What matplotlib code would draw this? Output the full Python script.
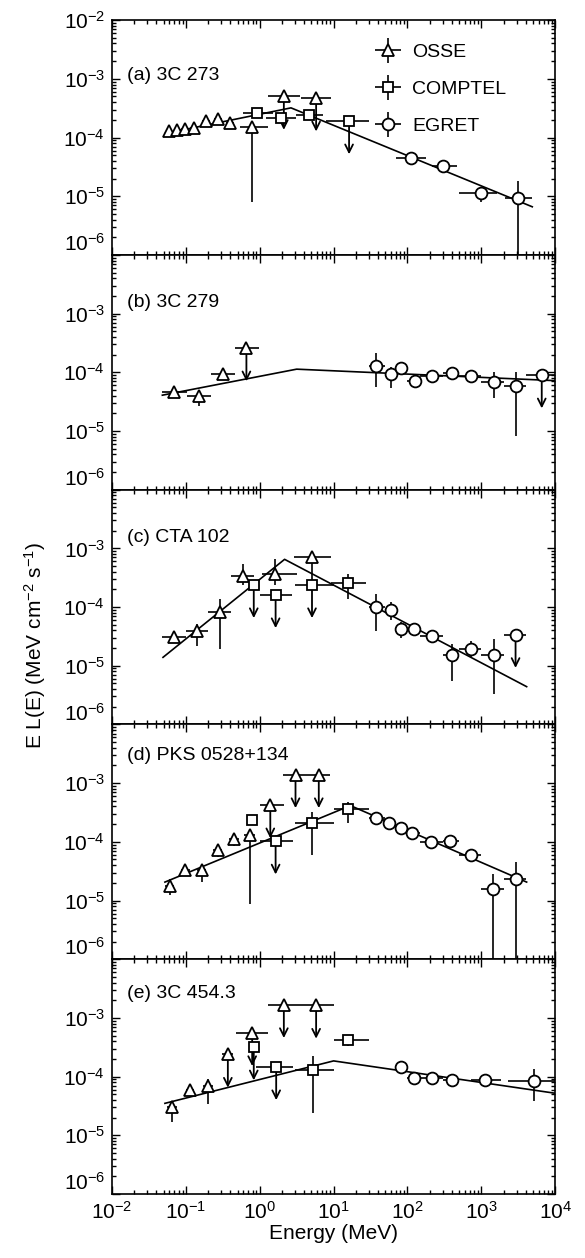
import numpy as np
import matplotlib.pyplot as plt
from matplotlib.container import ErrorbarContainer
from matplotlib.legend_handler import HandlerErrorbar
from matplotlib.ticker import NullFormatter

plt.rcParams['font.family'] = 'Liberation Sans'
plt.rcParams['mathtext.fontset'] = 'custom'
plt.rcParams['mathtext.rm'] = 'Liberation Sans'
plt.rcParams['mathtext.it'] = 'Liberation Sans:italic'
plt.rcParams['mathtext.bf'] = 'Liberation Sans:bold'

# rows: (E, E_lo, E_hi, F, F_lo, F_hi, upper_limit)   E in MeV, F = E L(E)
a_osse = [
    (0.059, 0.054, 0.064, 1.28e-4, 1.28e-4, 1.28e-4, 0),
    (0.076, 0.068, 0.085, 1.33e-4, 1.33e-4, 1.33e-4, 0),
    (0.097, 0.087, 0.108, 1.37e-4, 1.37e-4, 1.37e-4, 0),
    (0.129, 0.114, 0.146, 1.43e-4, 1.43e-4, 1.43e-4, 0),
    (0.187, 0.165, 0.210, 1.92e-4, 1.92e-4, 1.92e-4, 0),
    (0.271, 0.240, 0.305, 2.05e-4, 2.05e-4, 2.05e-4, 0),
    (0.393, 0.345, 0.450, 1.80e-4, 1.80e-4, 1.80e-4, 0),
    (0.79, 0.54, 1.28, 1.50e-4, 8.1e-6, 1.50e-4, 0),
    (2.12, 1.30, 3.50, 5.0e-4, 5.0e-4, 5.0e-4, 1),
    (5.8, 3.60, 9.20, 4.7e-4, 4.7e-4, 4.7e-4, 1),
]
a_comptel = [
    (0.93, 0.59, 1.49, 2.65e-4, 2.2e-4, 3.1e-4, 0),
    (1.95, 1.23, 3.10, 2.17e-4, 1.8e-4, 2.6e-4, 0),
    (4.7, 3.10, 7.10, 2.40e-4, 2.0e-4, 2.9e-4, 0),
    (16.2, 8.0, 30.0, 1.92e-4, 1.92e-4, 1.92e-4, 1),
]
a_egret = [
    (113, 70, 180, 4.4e-5, 3.9e-5, 5.0e-5, 0),
    (303, 214, 468, 3.3e-5, 2.9e-5, 3.7e-5, 0),
    (980, 500, 1620, 1.15e-5, 8.0e-6, 1.4e-5, 0),
    (3100, 2090, 4800, 9.5e-6, 1e-7, 1.8e-5, 0),
]

b_osse = [
    (0.069, 0.048, 0.105, 4.7e-5, 4.7e-5, 4.7e-5, 0),
    (0.149, 0.105, 0.220, 3.9e-5, 2.7e-5, 4.4e-5, 0),
    (0.316, 0.220, 0.456, 9.3e-5, 7.4e-5, 1.1e-4, 0),
    (0.66, 0.456, 0.98, 2.6e-4, 2.6e-4, 2.6e-4, 1),
]
b_comptel = []
b_egret = [
    (38, 30, 50, 1.26e-4, 5.7e-5, 2.1e-4, 0),
    (59, 50, 70, 9.3e-5, 5.3e-5, 1.25e-4, 0),
    (83, 70, 100, 1.17e-4, 1.0e-4, 1.35e-4, 0),
    (126, 100, 150, 7.2e-5, 7.2e-5, 7.2e-5, 0),
    (212, 150, 300, 8.7e-5, 8.7e-5, 8.7e-5, 0),
    (398, 300, 500, 9.6e-5, 8.7e-5, 1.06e-4, 0),
    (716, 500, 1000, 8.7e-5, 7.5e-5, 1.0e-4, 0),
    (1472, 1000, 2000, 6.9e-5, 3.6e-5, 1.0e-4, 0),
    (2909, 2000, 4000, 5.8e-5, 8.3e-6, 1.0e-4, 0),
    (6580, 4000, 10000, 9.0e-5, 9.0e-5, 9.0e-5, 1),
]

c_osse = [
    (0.069, 0.048, 0.100, 3.1e-5, 2.7e-5, 3.5e-5, 0),
    (0.14, 0.100, 0.200, 3.95e-5, 2.2e-5, 5.1e-5, 0),
    (0.294, 0.200, 0.410, 8.1e-5, 1.9e-5, 1.37e-4, 0),
    (0.59, 0.41, 0.83, 3.4e-4, 2.4e-4, 5.4e-4, 0),
    (1.59, 1.06, 3.2, 3.65e-4, 2.4e-4, 6.6e-4, 0),
    (5.1, 2.95, 9.3, 7.0e-4, 2.4e-4, 7.0e-4, 0),
]
c_comptel = [
    (0.83, 0.83, 0.83, 2.4e-4, 2.4e-4, 2.4e-4, 1),
    (1.64, 1.0, 2.75, 1.62e-4, 1.62e-4, 1.62e-4, 1),
    (5.1, 3.0, 10.0, 2.4e-4, 2.4e-4, 2.4e-4, 1),
    (15.9, 9.2, 27.6, 2.57e-4, 1.37e-4, 3.65e-4, 0),
]
c_egret = [
    (37, 30, 50, 9.9e-5, 3.95e-5, 1.66e-4, 0),
    (59, 50, 70, 8.9e-5, 6.0e-5, 1.2e-4, 0),
    (81, 70, 100, 4.3e-5, 3.0e-5, 5.5e-5, 0),
    (124, 100, 150, 4.2e-5, 3.4e-5, 5.0e-5, 0),
    (212, 150, 300, 3.25e-5, 2.8e-5, 3.8e-5, 0),
    (398, 300, 500, 1.55e-5, 5.5e-6, 2.35e-5, 0),
    (716, 500, 1000, 1.92e-5, 1.4e-5, 2.6e-5, 0),
    (1472, 1000, 2000, 1.55e-5, 3.3e-6, 2.8e-5, 0),
    (2909, 2000, 4000, 3.4e-5, 3.4e-5, 3.4e-5, 1),
]

d_osse = [
    (0.061, 0.052, 0.070, 1.8e-5, 1.22e-5, 2.35e-5, 0),
    (0.098, 0.085, 0.115, 3.27e-5, 3.27e-5, 3.27e-5, 0),
    (0.165, 0.140, 0.190, 3.27e-5, 2.1e-5, 3.27e-5, 0),
    (0.27, 0.23, 0.31, 7.2e-5, 5.5e-5, 9.0e-5, 0),
    (0.45, 0.38, 0.52, 1.12e-4, 8.5e-5, 1.4e-4, 0),
    (0.73, 0.62, 0.85, 1.3e-4, 8.7e-6, 1.6e-4, 0),
    (1.39, 1.0, 2.1, 4.26e-4, 4.26e-4, 4.26e-4, 1),
    (3.05, 2.08, 4.33, 1.39e-3, 1.39e-3, 1.39e-3, 1),
    (6.3, 4.33, 9.0, 1.39e-3, 1.39e-3, 1.39e-3, 1),
]
d_comptel = [
    (0.79, 0.79, 0.79, 2.35e-4, 2.35e-4, 2.35e-4, 0),
    (1.64, 1.0, 2.8, 1.03e-4, 1.03e-4, 1.03e-4, 1),
    (5.1, 3.0, 10.0, 2.06e-4, 5.9e-5, 3.27e-4, 0),
    (15.9, 10.0, 30.0, 3.6e-4, 2.06e-4, 4.86e-4, 0),
]
d_egret = [
    (37, 30, 50, 2.58e-4, 2.2e-4, 3.0e-4, 0),
    (57, 50, 70, 2.06e-4, 2.06e-4, 2.06e-4, 0),
    (81, 70, 100, 1.74e-4, 1.74e-4, 1.74e-4, 0),
    (117, 100, 150, 1.43e-4, 1.43e-4, 1.43e-4, 0),
    (208, 150, 300, 1.0e-4, 1.0e-4, 1.0e-4, 0),
    (378, 300, 500, 1.03e-4, 1.03e-4, 1.03e-4, 0),
    (716, 500, 1000, 5.9e-5, 5.9e-5, 5.9e-5, 0),
    (1443, 1000, 2000, 1.58e-5, 1e-7, 2.87e-5, 0),
    (2909, 2000, 4000, 2.29e-5, 1e-7, 4.5e-5, 0),
]

e_osse = [
    (0.064, 0.055, 0.075, 3.0e-5, 1.68e-5, 3.66e-5, 0),
    (0.115, 0.100, 0.130, 5.8e-5, 5.8e-5, 5.8e-5, 0),
    (0.2, 0.17, 0.235, 7.0e-5, 3.4e-5, 9.1e-5, 0),
    (0.37, 0.31, 0.44, 2.4e-4, 2.4e-4, 2.4e-4, 1),
    (0.79, 0.48, 1.3, 5.6e-4, 5.6e-4, 5.6e-4, 1),
    (2.12, 1.3, 3.5, 1.68e-3, 1.68e-3, 1.68e-3, 1),
    (5.8, 3.5, 10.0, 1.64e-3, 1.64e-3, 1.64e-3, 1),
]
e_comptel = [
    (0.83, 0.83, 0.83, 3.2e-4, 3.2e-4, 3.2e-4, 1),
    (1.67, 0.9, 2.85, 1.47e-4, 1.47e-4, 1.47e-4, 1),
    (5.2, 3.0, 10.0, 1.29e-4, 2.35e-5, 2.24e-4, 0),
    (15.9, 10.0, 30.0, 4.15e-4, 3.3e-4, 4.8e-4, 0),
]
e_egret = [
    (83, 70, 100, 1.43e-4, 1.43e-4, 1.43e-4, 0),
    (124, 100, 150, 9.4e-5, 9.4e-5, 9.4e-5, 0),
    (212, 150, 300, 9.4e-5, 9.4e-5, 9.4e-5, 0),
    (398, 300, 500, 8.9e-5, 8.9e-5, 8.9e-5, 0),
    (1134, 724, 1860, 8.9e-5, 8.9e-5, 8.9e-5, 0),
    (5176, 2290, 10000, 8.3e-5, 3.9e-5, 1.34e-4, 0),
]

# broken power-law fits (break points)
a_model_e = [0.0525, 2.65, 4900]
a_model_f = [1.17e-4, 3.2e-4, 6.6e-6]
b_model_e = [0.048, 3.16, 1e4]
b_model_f = [4.07e-5, 1.13e-4, 7.2e-5]
c_model_e = [0.049, 2.17, 4110]
c_model_f = [1.39e-5, 6.5e-4, 4.4e-6]
d_model_e = [0.052, 16.9, 4110]
d_model_f = [2.06e-5, 4.14e-4, 2.06e-5]
e_model_e = [0.052, 10.0, 1e4]
e_model_f = [3.5e-5, 1.85e-4, 5.2e-5]

names = ['(a) 3C 273', '(b) 3C 279', '(c) CTA 102', '(d) PKS 0528+134', '(e) 3C 454.3']
name_y = [1.12e-3, 1.55e-3, 1.55e-3, 2.9e-3, 2.6e-3]
instruments = ['OSSE', 'COMPTEL', 'EGRET']

panels = [
    (a_osse, a_comptel, a_egret, a_model_e, a_model_f),
    (b_osse, b_comptel, b_egret, b_model_e, b_model_f),
    (c_osse, c_comptel, c_egret, c_model_e, c_model_f),
    (d_osse, d_comptel, d_egret, d_model_e, d_model_f),
    (e_osse, e_comptel, e_egret, e_model_e, e_model_f),
]

markers = {'OSSE': ('^', 8), 'COMPTEL': ('s', 7), 'EGRET': ('o', 8.5)}
UL_DROP = 0.27  # length of upper-limit arrows (factor in flux)

fig, axes = plt.subplots(5, 1, figsize=(5.85, 12.58), dpi=100, sharex=True)
fig.subplots_adjust(left=0.1915, right=0.949, top=0.984, bottom=0.0509, hspace=0)

yt = [1e-6, 1e-5, 1e-4, 1e-3, 1e-2]
for i, (ax, (osse, comptel, egret, me, mf)) in enumerate(zip(axes, panels)):
    ax.set_xscale('log')
    ax.set_yscale('log')
    ax.plot(me, mf, color='k', lw=1.2, zorder=2)

    handles = []
    for inst, rows in zip(instruments, (osse, comptel, egret)):
        if not rows:
            continue
        E, lo, hi, F, flo, fhi, ul = np.array(rows, dtype=float).T
        mk, ms = markers[inst]
        eb = ax.errorbar(E, F, xerr=[E - lo, hi - E], yerr=[F - flo, fhi - F],
                         fmt=mk, ms=ms, mfc='white', mec='k', mew=1.3,
                         ecolor='k', elinewidth=1.2, capsize=0, zorder=4,
                         label=inst)
        handles.append(eb)
        for x, f in zip(E[ul > 0], F[ul > 0]):
            ax.annotate('', xy=(x, f * UL_DROP), xytext=(x, f),
                        arrowprops=dict(arrowstyle='->', color='k', lw=1.3,
                                        shrinkA=0, shrinkB=0, mutation_scale=14),
                        zorder=3)

    ax.text(0.033, name_y[i], names[i], transform=ax.get_yaxis_transform(),
            fontsize=14, ha='left', va='center')

    ax.set_xlim(1e-2, 1e4)
    ax.set_ylim(1e-6, 1e-2)
    labels = [r'$10^{-6}$', r'$10^{-5}$', r'$10^{-4}$', r'$10^{-3}$',
              r'$10^{-2}$' if i == 0 else '']
    ax.set_yticks(yt, labels=labels)
    ax.yaxis.get_major_ticks()[0].label1.set_verticalalignment('bottom')
    ax.yaxis.set_minor_formatter(NullFormatter())
    ax.tick_params(which='both', direction='in', top=True, right=True,
                   labelsize=15, width=1.0)
    ax.tick_params(which='major', length=6, pad=5)
    ax.tick_params(which='minor', length=3)
    for sp in ax.spines.values():
        sp.set_linewidth(1.2)

    if i == 0:
        ax.legend(handles=handles, loc='upper left', bbox_to_anchor=(0.555, 0.975),
                  frameon=False, fontsize=14, numpoints=1, handlelength=1.3,
                  handletextpad=0.6, labelspacing=1.0,
                  handler_map={ErrorbarContainer: HandlerErrorbar(xerr_size=0.65, yerr_size=0.65)})

axes[-1].set_xlabel('Energy (MeV)', fontsize=15, labelpad=1)
fig.text(0.06, 0.487, r'E L(E) (MeV cm$^{-2}$ s$^{-1}$)', rotation=90,
         ha='center', va='center', fontsize=15)

fig.savefig('out.png', dpi=100)
